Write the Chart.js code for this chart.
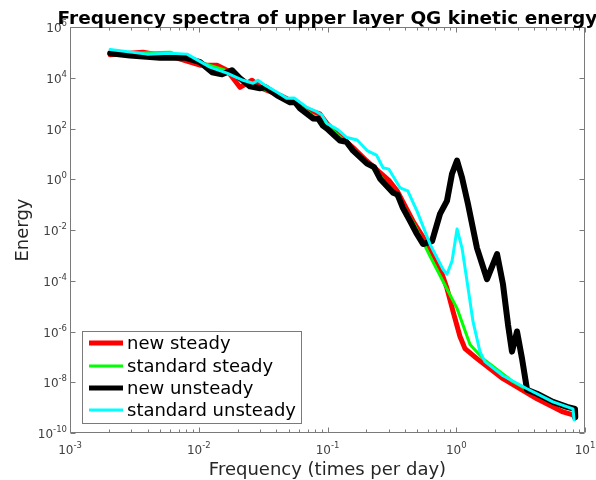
<!DOCTYPE html>
<html>
<head>
<meta charset="utf-8">
<script src="https://cdn.jsdelivr.net/npm/chart.js@4/dist/chart.umd.min.js"></script>
<style>
html,body{margin:0;padding:0;background:#fff;}
#c{display:block;}
</style>
</head>
<body>
<canvas id="c" width="596" height="480"></canvas>
<script>
// ---- data ----
const chartTitle = 'Frequency spectra of upper layer QG kinetic energy';
const xTitle = 'Frequency (times per day)';
const yTitle = 'Energy';
const seriesNames = ['new steady', 'standard steady', 'new unsteady', 'standard unsteady'];

const xTickExponents = [-3, -2, -1, 0, 1];
const yTickExponents = [-10, -8, -6, -4, -2, 0, 2, 4, 6];

const freqNewSteady = [2.05e-3, 3.69e-3, 6.78e-3, 1.023e-2, 1.387e-2, 1.656e-2, 2.09e-2, 2.59e-2, 3.1e-2, 4.28e-2, 6.11e-2, 7.5e-2, 8.7e-2, 9.9e-2, 0.12, 0.158, 0.2, 0.256, 0.3, 0.347, 0.461, 0.625, 0.748, 0.847, 0.944, 1.069, 1.169, 1.449, 2.307, 4.236, 6.745, 8.07, 8.36];
const energyNewSteady = [8.0e4, 1.02e5, 5.92e4, 3.13e4, 3.13e4, 1.98e4, 4.21e3, 7.96e3, 3.84e3, 2.03e3, 815, 480, 380, 158, 60, 17.7, 5.5, 1.81, 0.9, 0.351, 0.0227, 1.94e-3, 3.13e-4, 5.05e-5, 6.19e-6, 6.34e-7, 2.12e-7, 8.53e-8, 1.38e-8, 2.22e-9, 6.79e-10, 5.16e-10, 3.93e-10];

const freqStandardSteady = [2.05e-3, 5.98e-3, 1.023e-2, 1.6e-2, 2.29e-2, 3.1e-2, 4.28e-2, 6.11e-2, 9.9e-2, 0.158, 0.256, 0.366, 0.479, 0.625, 0.789, 1.014, 1.279, 1.614, 2.761, 4.477, 7.0, 8.36];
const energyStandardSteady = [8.8e4, 1.02e5, 4.11e4, 1.98e4, 6.64e3, 3.84e3, 2.03e3, 743, 132, 16.1, 1.38, 0.141, 0.0144, 9.33e-4, 9.55e-5, 8.15e-6, 3.05e-7, 8.53e-8, 1.05e-8, 2.67e-9, 9.77e-10, 8.15e-10];

const freqNewUnsteady = [2.05e-3, 2.92e-3, 5.0e-3, 7.82e-3, 1.023e-2, 1.27e-2, 1.517e-2, 1.81e-2, 2.09e-2, 2.5e-2, 2.99e-2, 3.3e-2, 3.57e-2, 4.06e-2, 5.12e-2, 5.6e-2, 6.11e-2, 7.71e-2, 8.5e-2, 9.2e-2, 9.9e-2, 0.125, 0.14, 0.158, 0.203, 0.23, 0.256, 0.323, 0.35, 0.385, 0.438, 0.495, 0.552, 0.649, 0.748, 0.847, 0.927, 1.014, 1.109, 1.233, 1.449, 1.734, 2.075, 2.307, 2.523, 2.71, 2.965, 3.243, 3.548, 4.236, 5.636, 7.244, 8.36, 8.4];
const energyNewUnsteady = [9.3e4, 7.5e4, 6.2e4, 6.2e4, 4.11e4, 1.65e4, 1.38e4, 1.98e4, 9.55e3, 4.6e3, 3.84e3, 4.2e3, 3.2e3, 2.03e3, 1.07e3, 1.1e3, 619, 249, 240, 130, 100, 33.5, 30, 13.5, 4.11, 3.0, 1.05, 0.292, 0.25, 0.0743, 0.0227, 6.95e-3, 2.79e-3, 3.66e-3, 0.0431, 0.141, 1.65, 5.41, 1.15, 0.107, 1.94e-3, 1.15e-4, 1.12e-3, 7.26e-5, 1.89e-6, 1.61e-7, 1e-6, 8.53e-8, 5.05e-9, 3.51e-9, 1.69e-9, 1.07e-9, 8.91e-10, 4.2e-10];

const freqStandardUnsteady = [2.05e-3, 3.96e-3, 5.98e-3, 8.11e-3, 1.222e-2, 1.656e-2, 2.21e-2, 2.64e-2, 2.88e-2, 3.27e-2, 4.06e-2, 4.84e-2, 5.5e-2, 6.93e-2, 8.0e-2, 9.0e-2, 9.9e-2, 0.12, 0.1416, 0.17, 0.203, 0.24, 0.27, 0.3, 0.366, 0.42, 0.495, 0.625, 0.789, 0.847, 0.927, 1.014, 1.109, 1.213, 1.349, 1.528, 1.671, 2.307, 3.548, 5.636, 8.07, 8.22];
const energyStandardUnsteady = [1.3e5, 8.53e4, 9.33e4, 8.53e4, 2.61e4, 1.51e4, 7.96e3, 6.05e3, 7.96e3, 5.05e3, 2.67e3, 1.54e3, 1.6e3, 679, 500, 350, 158, 90, 44.1, 35, 13.5, 9, 2.85, 2.5, 0.46, 0.35, 0.0565, 2.79e-3, 2.85e-4, 1.81e-4, 5.92e-4, 0.011, 1.94e-3, 9.55e-5, 2.49e-6, 1.61e-7, 6.49e-8, 1.81e-8, 5.53e-9, 1.69e-9, 8.91e-10, 3.27e-10];

// ---- styling ----
const seriesColors = ['#ff0000', '#00ff00', '#000000', '#00ffff'];
const seriesWidths = [5, 3, 6, 3];
const FONT = '"DejaVu Sans", sans-serif';

function pts(xs, ys) { return xs.map((x, i) => ({ x: x, y: ys[i] })); }

const seriesData = [
  pts(freqNewSteady, energyNewSteady),
  pts(freqStandardSteady, energyStandardSteady),
  pts(freqNewUnsteady, energyNewUnsteady),
  pts(freqStandardUnsteady, energyStandardUnsteady)
];

const datasets = seriesNames.map((name, i) => ({
  label: name,
  data: seriesData[i],
  borderColor: seriesColors[i],
  backgroundColor: seriesColors[i],
  borderWidth: seriesWidths[i],
  pointRadius: 0,
  tension: 0,
  fill: false,
  borderJoinStyle: 'round',
  borderCapStyle: 'round',
  order: seriesNames.length - i
}));

function drawPow(ctx, exp, x, baseY, align) {
  const mainFont = '12px ' + FONT;
  const supFont = '8.5px ' + FONT;
  ctx.font = mainFont;
  const w1 = ctx.measureText('10').width;
  ctx.font = supFont;
  const es = String(exp);
  const w2 = ctx.measureText(es).width;
  const w = w1 + w2;
  let sx = align === 'center' ? x - w / 2 : x - w;
  ctx.textAlign = 'left';
  ctx.textBaseline = 'alphabetic';
  ctx.font = mainFont;
  ctx.fillText('10', sx, baseY);
  ctx.font = supFont;
  ctx.fillText(es, sx + w1, baseY - 6);
}

const matlabAxes = {
  id: 'matlabAxes',
  afterDatasetsDraw(chart) {
    const ctx = chart.ctx;
    const a = chart.chartArea;
    const xs = chart.scales.x, ys = chart.scales.y;
    const L = Math.round(a.left) + 0.5, R = Math.round(a.right) - 0.5;
    const T = Math.round(a.top) + 0.5, B = Math.round(a.bottom) - 0.5;
    ctx.save();
    // box
    ctx.strokeStyle = '#7a7a7a';
    ctx.lineWidth = 1;
    ctx.beginPath();
    ctx.rect(L, T, R - L, B - T);
    ctx.stroke();
    // x ticks
    ctx.beginPath();
    for (let d = -3; d <= 1; d++) {
      for (let k = 1; k <= 9; k++) {
        const v = k * Math.pow(10, d);
        if (v > 10.0001) break;
        const px = Math.round(xs.getPixelForValue(v)) + 0.5;
        const len = k === 1 ? 5 : 3;
        ctx.moveTo(px, B); ctx.lineTo(px, B - len);
        ctx.moveTo(px, T); ctx.lineTo(px, T + len);
      }
    }
    // y ticks
    yTickExponents.forEach(e => {
      const py = Math.round(ys.getPixelForValue(Math.pow(10, e))) + 0.5;
      ctx.moveTo(L, py); ctx.lineTo(L + 5, py);
      ctx.moveTo(R, py); ctx.lineTo(R - 5, py);
    });
    ctx.stroke();

    // tick labels
    ctx.fillStyle = '#404040';
    xTickExponents.forEach(e => {
      const px = xs.getPixelForValue(Math.pow(10, e));
      drawPow(ctx, e, px, 454, 'center');
    });
    yTickExponents.forEach(e => {
      const py = ys.getPixelForValue(Math.pow(10, e));
      drawPow(ctx, e, 67, py + 5, 'right');
    });

    // axis titles
    ctx.fillStyle = '#262626';
    ctx.font = '18px ' + FONT;
    ctx.textAlign = 'center';
    ctx.textBaseline = 'alphabetic';
    ctx.fillText(xTitle, (a.left + a.right) / 2, 475);
    ctx.save();
    ctx.translate(28, (a.top + a.bottom) / 2);
    ctx.rotate(-Math.PI / 2);
    ctx.fillText(yTitle, 0, 0);
    ctx.restore();

    // title
    ctx.fillStyle = '#000';
    ctx.font = 'bold 18.5px ' + FONT;
    ctx.fillText(chartTitle, (a.left + a.right) / 2, 24);

    // legend
    const lx = 82.5, ly = 331.5, lw = 219, lh = 92;
    ctx.fillStyle = '#fff';
    ctx.fillRect(lx, ly, lw, lh);
    ctx.strokeStyle = '#7a7a7a';
    ctx.lineWidth = 1;
    ctx.strokeRect(lx, ly, lw, lh);
    const rows = [343, 366, 388, 410];
    ctx.font = '18px ' + FONT;
    ctx.textAlign = 'left';
    seriesNames.forEach((n, i) => {
      ctx.strokeStyle = seriesColors[i];
      ctx.lineWidth = Math.min(seriesWidths[i], 5);
      ctx.lineCap = 'butt';
      ctx.beginPath();
      ctx.moveTo(89, rows[i]);
      ctx.lineTo(123, rows[i]);
      ctx.stroke();
      ctx.fillStyle = '#000';
      ctx.fillText(n, 127, rows[i] + 6);
    });
    ctx.restore();
  }
};

new Chart(document.getElementById('c'), {
  type: 'line',
  data: { datasets: datasets },
  options: {
    responsive: false,
    animation: false,
    devicePixelRatio: 1,
    layout: { padding: { left: 70, right: 11, top: 27, bottom: 47 } },
    plugins: { legend: { display: false }, title: { display: false }, tooltip: { enabled: false } },
    scales: {
      x: { type: 'logarithmic', min: 1e-3, max: 10, display: false },
      y: { type: 'logarithmic', min: 1e-10, max: 1e6, display: false }
    }
  },
  plugins: [matlabAxes]
});
</script>
</body>
</html>
